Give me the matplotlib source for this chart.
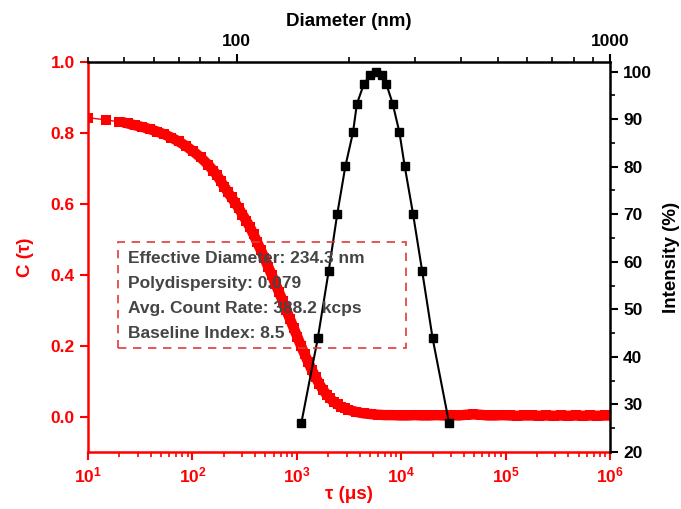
import matplotlib
matplotlib.use("Agg")
import matplotlib.pyplot as plt
from matplotlib.patches import Rectangle
from matplotlib.ticker import FixedLocator, LogLocator, NullFormatter, MultipleLocator

plt.rcParams["font.family"] = ["Liberation Sans", "DejaVu Sans"]
plt.rcParams["font.weight"] = "bold"

# correlation function C(tau), tau in microseconds
tau_us = [10, 15, 20, 24, 28, 33, 39, 46, 54, 63, 74, 87, 102, 120, 141,
          158, 172, 186, 202, 219, 237, 257, 279, 302, 327, 355, 385, 417,
          452, 490, 531, 575, 624, 676, 733, 794, 861, 933, 1012, 1096,
          1189, 1288, 1396, 1514, 1641, 1778, 1928, 2089, 2265, 2455, 2661,
          2884, 3126, 3715, 4365, 5129, 6026, 7079, 8318, 9772, 11482,
          13490, 15849, 18621, 21878, 25704, 30200, 35481, 41687, 48978,
          57544, 67608, 79433, 93325, 109648, 128825, 151356, 177828,
          208930, 245471, 288403, 338844, 398107, 467735, 549541, 645654,
          758578, 891251, 1000000]
c_tau = [0.843, 0.837, 0.831, 0.827, 0.822, 0.817, 0.811, 0.804, 0.796,
         0.787, 0.776, 0.763, 0.748, 0.731, 0.711,
         0.694, 0.681, 0.665, 0.649, 0.633, 0.618, 0.603, 0.587, 0.570,
         0.553, 0.535, 0.514, 0.492, 0.470, 0.447, 0.423, 0.400, 0.375,
         0.351, 0.326, 0.300, 0.275, 0.250, 0.225, 0.200, 0.176, 0.153,
         0.131, 0.111, 0.092, 0.076, 0.062, 0.051, 0.041, 0.034, 0.028,
         0.023, 0.019, 0.013, 0.009, 0.007, 0.005, 0.004, 0.004, 0.003,
         0.003, 0.004, 0.003, 0.003, 0.004, 0.003, 0.004, 0.003, 0.005,
         0.006, 0.005, 0.003, 0.003, 0.004, 0.003, 0.002, 0.003, 0.003,
         0.002, 0.003, 0.002, 0.003, 0.002, 0.003, 0.002, 0.003, 0.002,
         0.003, 0.003]

# intensity size distribution
diameter_nm = [149, 165, 176.5, 186, 195.6, 205, 210, 219, 227, 236,
               245, 252, 262, 273, 282, 297, 314, 335, 371]
intensity = [26.0, 43.9, 58.1, 70.0, 80.1, 87.2, 93.2, 97.3, 99.2, 100.0,
             99.2, 97.3, 93.2, 87.2, 80.1, 70.0, 58.1, 43.9, 26.0]

info_lines = ["Effective Diameter: 234.3 nm",
              "Polydispersity: 0.079",
              "Avg. Count Rate: 388.2 kcps",
              "Baseline Index: 8.5"]

red = "#ff0000"

fig = plt.figure(figsize=(6.81, 5.09), dpi=100)
ax = fig.add_axes([0.1292, 0.112, 0.7665, 0.766])
ax2 = ax.twinx()
ax3 = ax2.twiny()

# C(tau) on bottom / left: thin line + squares, dense part reads as a thick band
ax.plot(tau_us, c_tau, color=red, linewidth=1.0)
ax.plot(tau_us[3:], c_tau[3:], color=red, linewidth=7.5,
        solid_joinstyle="round")
ax.plot(tau_us, c_tau, color=red, marker="s", markersize=7.3, linestyle="none",
        markeredgewidth=0)
ax.set_xscale("log")
ax.set_xlim(10, 1e6)
ax.set_ylim(-0.1, 1.0)
ax.yaxis.set_major_locator(FixedLocator([0.0, 0.2, 0.4, 0.6, 0.8, 1.0]))
ax.xaxis.set_major_locator(LogLocator(base=10, numticks=10))
ax.xaxis.set_minor_locator(LogLocator(base=10, subs=range(2, 10), numticks=20))
ax.xaxis.set_minor_formatter(NullFormatter())
ax.set_xlabel("τ (μs)", color=red, fontsize=13.5, fontweight="bold", labelpad=1)
ax.set_ylabel("C (τ)", color=red, fontsize=13.5, fontweight="bold", labelpad=12)
ax.tick_params(axis="both", which="major", colors=red, labelsize=12.5,
               width=1.5, length=6, direction="out")
ax.tick_params(axis="x", which="minor", colors=red, width=1.2, length=3.5,
               direction="out")
for s in ["top", "right"]:
    ax.spines[s].set_visible(False)
for s in ["left", "bottom"]:
    ax.spines[s].set_color(red)
    ax.spines[s].set_linewidth(1.8)

# intensity on top / right
ax2.set_ylim(20, 102)
ax2.yaxis.set_major_locator(MultipleLocator(10))
ax2.yaxis.set_minor_locator(MultipleLocator(5))
ax2.set_ylabel("Intensity (%)", fontsize=13.5, fontweight="bold", labelpad=8)
ax2.tick_params(axis="y", which="major", colors="black", labelsize=12.5,
                width=1.5, length=6, direction="out")
ax2.tick_params(axis="y", which="minor", width=1.2, length=3.5, direction="out")
for s in ["top", "left", "bottom"]:
    ax2.spines[s].set_visible(False)
ax2.spines["right"].set_linewidth(1.8)

ax3.plot(diameter_nm, intensity, color="black", marker="s", markersize=5.8,
         linewidth=1.5)
ax3.set_xscale("log")
ax3.set_xlim(40, 1000)
ax3.xaxis.set_major_locator(FixedLocator([100, 1000]))
ax3.xaxis.set_major_formatter(plt.FuncFormatter(lambda v, p: f"{v:.0f}"))
ax3.xaxis.set_minor_locator(LogLocator(base=10, subs=range(2, 10), numticks=20))
ax3.xaxis.set_minor_formatter(NullFormatter())
ax3.set_xlabel("Diameter (nm)", fontsize=13.5, fontweight="bold", labelpad=6)
ax3.tick_params(axis="x", which="major", labelsize=12.5, width=1.5, length=6,
                direction="out")
ax3.tick_params(axis="x", which="minor", width=1.2, length=3.5, direction="out")
for s in ["right", "left", "bottom"]:
    ax3.spines[s].set_visible(False)
ax3.spines["top"].set_linewidth(1.8)

# info box
box = Rectangle((0.0575, 0.267), 0.5515, 0.271, transform=ax.transAxes,
                fill=False, edgecolor="#e0393b", linewidth=1.2,
                linestyle=(0, (5, 4)), zorder=20, clip_on=False)
ax3.add_patch(box)
box.set_transform(ax.transAxes)
for i, line in enumerate(info_lines):
    ax3.text(0.0766, 0.495 - i * 0.064, line, transform=ax.transAxes,
             fontsize=12.5, fontweight="bold", color="#454545", va="center",
             ha="left", zorder=21)

fig.savefig("out.png", dpi=100)
